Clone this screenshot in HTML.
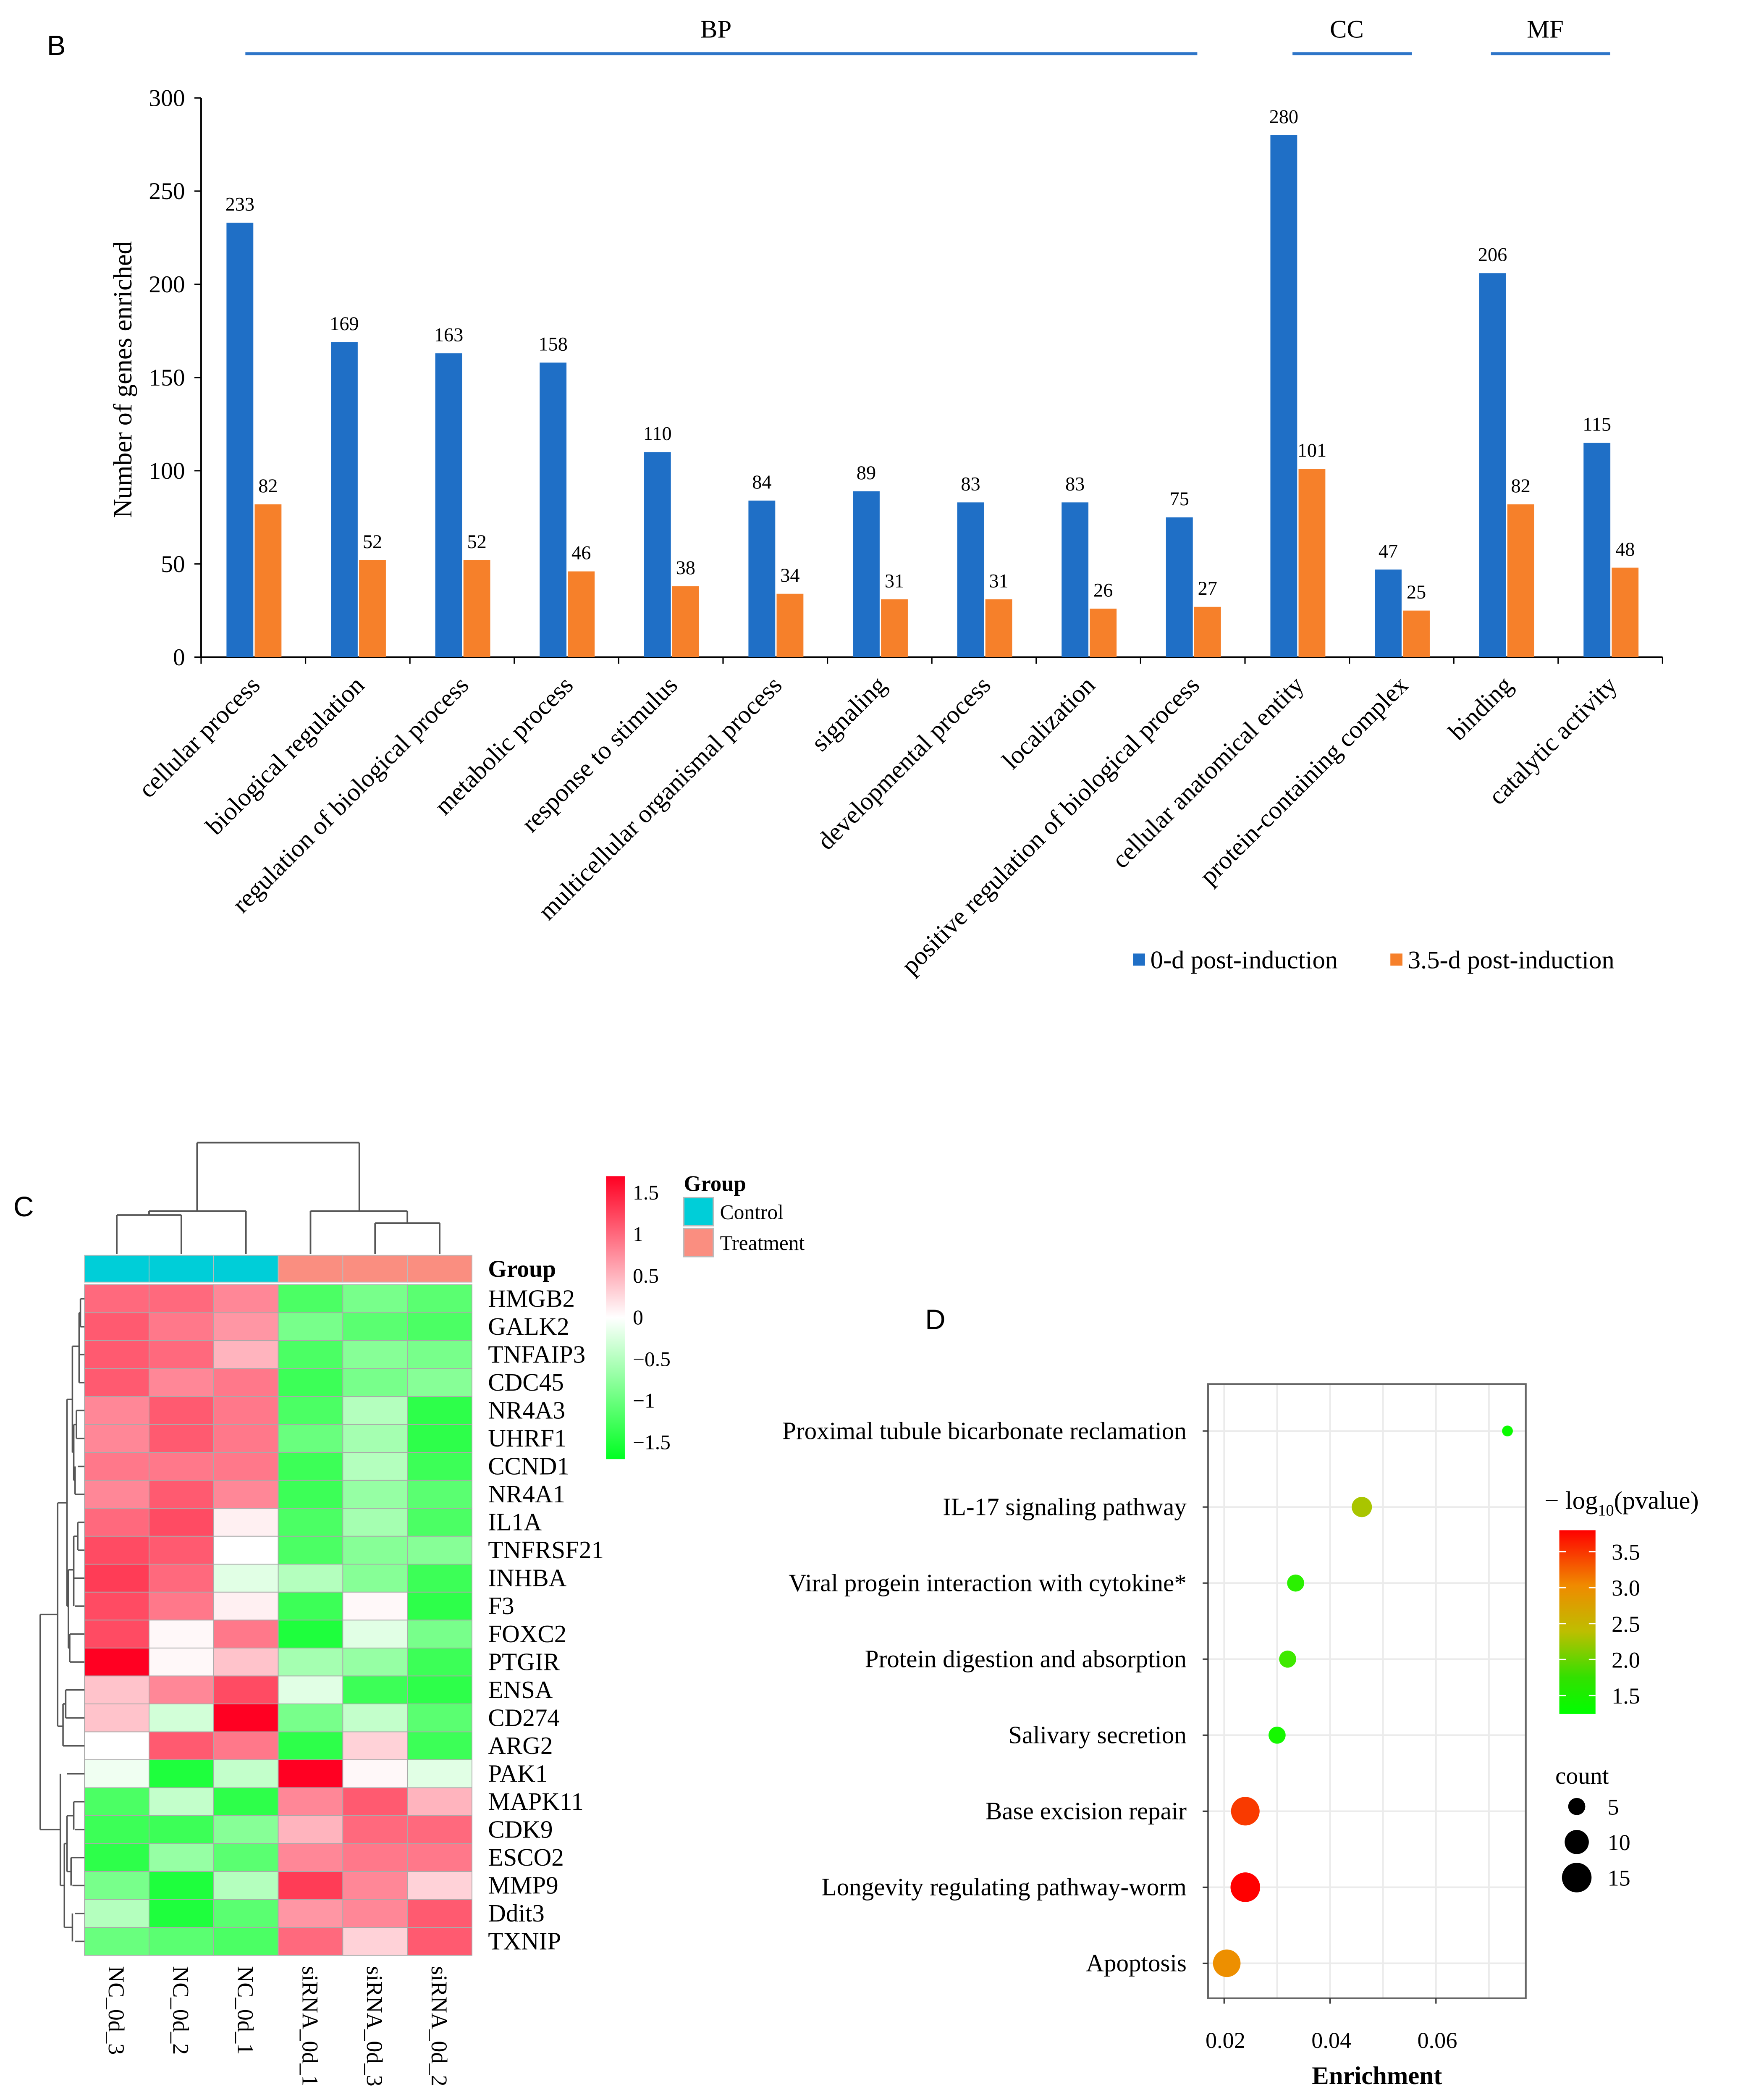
<!DOCTYPE html>
<html><head><meta charset="utf-8"><style>
html,body{margin:0;padding:0;background:#fff;overflow:hidden;}
svg{display:block;}
text{font-family:"Liberation Serif",serif;fill:#000;}
text.sans{font-family:"Liberation Sans",sans-serif;}
</style></head><body>
<svg id="fig" width="4151" height="5027" viewBox="0 0 1300 1574.3" preserveAspectRatio="none" xmlns="http://www.w3.org/2000/svg">
<rect width="1300" height="1575" fill="#fff"/>
<text class="sans" x="35" y="41" font-size="21">B</text>
<text class="sans" x="10" y="907" font-size="21">C</text>
<text class="sans" x="690" y="991" font-size="21">D</text>
<g id="bar"></g>
<g id="heat"></g>
<g id="dot"></g>
</svg>
<script>
const NS="http://www.w3.org/2000/svg";
function mk(p,t,a,txt){const e=document.createElementNS(NS,t);for(const k in a)e.setAttribute(k,a[k]);if(txt!==undefined)e.textContent=txt;p.appendChild(e);return e;}

// ---------- Bar chart data ----------
const barCategories=["cellular process","biological regulation","regulation of biological process","metabolic process","response to stimulus","multicellular organismal process","signaling","developmental process","localization","positive regulation of biological process","cellular anatomical entity","protein-containing complex","binding","catalytic activity"];
const series0d=[233,169,163,158,110,84,89,83,83,75,280,47,206,115];
const series35d=[82,52,52,46,38,34,31,31,26,27,101,25,82,48];
const barYTicks=[0,50,100,150,200,250,300];

// ---------- Heatmap data ----------
const heatCols=["NC_0d_3","NC_0d_2","NC_0d_1","siRNA_0d_1","siRNA_0d_3","siRNA_0d_2"];
const heatGroups=["Control","Control","Control","Treatment","Treatment","Treatment"];
const heatRows=["HMGB2","GALK2","TNFAIP3","CDC45","NR4A3","UHRF1","CCND1","NR4A1","IL1A","TNFRSF21","INHBA","F3","FOXC2","PTGIR","ENSA","CD274","ARG2","PAK1","MAPK11","CDK9","ESCO2","MMP9","Ddit3","TXNIP"];
const heatValues=[
[1.0,1.0,0.8,-1.2,-0.9,-1.1],
[1.1,0.9,0.7,-0.9,-1.1,-1.2],
[1.1,1.0,0.5,-1.2,-0.8,-0.9],
[1.1,0.8,0.9,-1.3,-0.9,-0.8],
[0.8,1.1,0.9,-1.2,-0.5,-1.4],
[0.8,1.1,0.9,-1.0,-0.6,-1.4],
[0.9,0.9,0.9,-1.3,-0.5,-1.3],
[0.8,1.1,0.8,-1.3,-0.7,-1.1],
[1.0,1.2,0.1,-1.2,-0.6,-1.2],
[1.2,1.1,0.0,-1.2,-0.8,-0.8],
[1.3,1.0,-0.2,-0.5,-0.8,-1.3],
[1.2,0.9,0.1,-1.3,0.05,-1.4],
[1.2,0.05,0.9,-1.5,-0.2,-0.9],
[1.7,0.05,0.4,-0.6,-0.7,-1.3],
[0.4,0.8,1.2,-0.2,-1.3,-1.4],
[0.4,-0.3,1.7,-0.9,-0.4,-1.1],
[0.0,1.1,0.9,-1.4,0.3,-1.3],
[-0.1,-1.5,-0.4,1.7,0.05,-0.2],
[-1.2,-0.4,-1.4,0.8,1.1,0.5],
[-1.3,-1.3,-0.8,0.5,1.0,1.0],
[-1.4,-0.7,-1.1,0.8,0.9,0.9],
[-0.9,-1.5,-0.5,1.3,0.8,0.3],
[-0.5,-1.5,-1.1,0.7,0.8,1.1],
[-1.0,-1.1,-1.2,1.0,0.3,1.1]];
const heatTicks=[1.5,1,0.5,0,-0.5,-1,-1.5];
const heatTickLabels=["1.5","1","0.5","0","\u22120.5","\u22121","\u22121.5"];

// ---------- Dot plot data ----------
const pathways=["Proximal tubule bicarbonate reclamation","IL-17 signaling pathway","Viral progein interaction with cytokine*","Protein digestion and absorption","Salivary secretion","Base excision repair","Longevity regulating pathway-worm","Apoptosis"];
const enrichment=[0.0735,0.046,0.0335,0.032,0.030,0.024,0.024,0.0205];
const counts=[2,7,5,5,5,14,15,13];
const logp=[1.35,2.1,1.5,1.6,1.4,3.5,3.85,2.95];
const enrichTicks=[0.02,0.04,0.06];
const pTicks=[3.5,3.0,2.5,2.0,1.5];
const countLegend=[5,10,15];

// ===== Bar chart =====
(function(){
const g=document.getElementById('bar');
const x0=150,x1=1240,y0=490,yTop=73;
const y=v=>y0-(v/300)*(y0-yTop);
const gw=(x1-x0)/barCategories.length;
const cx=i=>x0+gw*(i+0.5);
let e;
e=mk(g,'line',{x1:x0,y1:yTop,x2:x0,y2:y0,stroke:'#000','stroke-width':1.2});

e=mk(g,'line',{x1:x0,y1:y0,x2:x1,y2:y0,stroke:'#000','stroke-width':1.2});

barYTicks.forEach(t=>{
 mk(g,'line',{x1:x0-5,y1:y(t),x2:x0,y2:y(t),stroke:'#000'});
 e=mk(g,'text',{x:x0-12,y:y(t)+6,'font-size':18,'text-anchor':'end'},t);
 
});
for(let i=0;i<=barCategories.length;i++)mk(g,'line',{x1:x0+gw*i,y1:y0,x2:x0+gw*i,y2:y0+5,stroke:'#000'});
e=mk(g,'text',{x:0,y:0,'font-size':19.5,'text-anchor':'middle',transform:'translate(98,283) rotate(-90)'},'Number of genes enriched');

barCategories.forEach((c,i)=>{
 const c0=cx(i);
 e=mk(g,'rect',{x:c0-20,y:y(series0d[i]),width:20,height:y0-y(series0d[i]),fill:'#1F6FC6'});
 
 e=mk(g,'rect',{x:c0+1,y:y(series35d[i]),width:20,height:y0-y(series35d[i]),fill:'#F6802A'});
 
 e=mk(g,'text',{x:c0-10,y:y(series0d[i])-9,'font-size':14.5,'text-anchor':'middle'},series0d[i]);
 
 e=mk(g,'text',{x:c0+11,y:y(series35d[i])-9,'font-size':14.5,'text-anchor':'middle'},series35d[i]);
 
 e=mk(g,'text',{x:0,y:0,'font-size':19,'text-anchor':'end',transform:`translate(${c0+6},${y0+22}) rotate(-45)`},c);
 
});
const brackets=[["BP",183,893],["CC",964,1053],["MF",1112,1201]];
brackets.forEach(b=>{
 e=mk(g,'line',{x1:b[1],y1:40,x2:b[2],y2:40,stroke:'#2E75C8','stroke-width':2.2});
 
 e=mk(g,'text',{x:(b[1]+b[2])/2-4,y:28,'font-size':19,'text-anchor':'middle'},b[0]);
 
});
e=mk(g,'rect',{x:845,y:711,width:9,height:9,fill:'#1F6FC6'});

e=mk(g,'text',{x:858,y:722,'font-size':19},'0-d post-induction');

e=mk(g,'rect',{x:1037,y:711,width:9,height:9,fill:'#F6802A'});

e=mk(g,'text',{x:1050,y:722,'font-size':19},'3.5-d post-induction');

})();

// ===== Heatmap =====
(function(){
const g=document.getElementById('heat');
const hx0=63,hx1=352,hy0=958,hy1=1458;
const cw=(hx1-hx0)/heatCols.length, rh=(hy1-hy0)/heatRows.length;
function col(v){
 const m=1.7;let t=Math.max(-1,Math.min(1,v/m));
 if(t>=0){return `rgb(255,${Math.round(255-255*t)},${Math.round(255-221*t)})`;}
 t=-t;return `rgb(${Math.round(255-255*t)},255,${Math.round(255-220*t)})`;
}
let e;
heatCols.forEach((c,j)=>{
 e=mk(g,'rect',{x:hx0+cw*j,y:936,width:cw,height:20,fill:heatGroups[j]==='Control'?'#00CED8':'#FA8E80',stroke:'#bbb','stroke-width':0.6});
 
 e=mk(g,'text',{x:0,y:0,'font-size':17,transform:`translate(${hx0+cw*(j+0.5)-6},${hy1+8}) rotate(90)`},c);
 
});
heatRows.forEach((r,i)=>{
 heatValues[i].forEach((v,j)=>{
  e=mk(g,'rect',{x:hx0+cw*j,y:hy0+rh*i,width:cw,height:rh,fill:col(v),stroke:'#aaa','stroke-width':0.6});
  
 });
 e=mk(g,'text',{x:364,y:hy0+rh*(i+0.5)+6,'font-size':18.5},r);
 
});
e=mk(g,'text',{x:364,y:952,'font-size':18,'font-weight':'bold'},'Group');

const cc=j=>hx0+cw*(j+0.5);
const dl=[[cc(0),935,cc(0),906],[cc(1),935,cc(1),906],[cc(0),906,cc(1),906],[cc(2),935,cc(2),903],[(cc(0)+cc(1))/2,906,(cc(0)+cc(1))/2,903],[(cc(0)+cc(1))/2,903,cc(2),903],
[cc(4),935,cc(4),912],[cc(5),935,cc(5),912],[cc(4),912,cc(5),912],[cc(3),935,cc(3),903],[(cc(4)+cc(5))/2,912,(cc(4)+cc(5))/2,903],[cc(3),903,(cc(4)+cc(5))/2,903],
[147,903,147,852],[268,903,268,852],[147,852,268,852]];
const dg=mk(g,'g',{stroke:'#555','stroke-width':1.2,fill:'none'});

dl.forEach(l=>mk(dg,'line',{x1:l[0],y1:l[1],x2:l[2],y2:l[3]}));
const rc=i=>hy0+rh*(i+0.5);
const rg=mk(g,'g',{stroke:'#555','stroke-width':1.1,fill:'none'});

const leafX=[60,60,59,59,57,57,58,56,58,58,55,56,52,52,49,49,47,50,55,56,53,54,56,56];
heatRows.forEach((r,i)=>mk(rg,'line',{x1:leafX[i],y1:rc(i),x2:63,y2:rc(i)}));
const rl=[[60,rc(0),60,rc(1)],[59,rc(0.5),59,rc(3)],[57,rc(4),57,rc(5)],[56,rc(6),56,rc(7)],[55,rc(4.5),55,rc(6.5)],[54,rc(1.7),54,rc(5.5)],
[58,rc(8),58,rc(9)],[55,rc(8.5),55,rc(11)],[52,rc(12),52,rc(13)],[51,rc(9.7),51,rc(12.5)],[50,rc(3.6),50,rc(11)],[49,rc(14),49,rc(15)],[47,rc(14.5),47,rc(16)],[43,rc(7.3),43,rc(15.3)],
[55,rc(18),55,rc(19)],[53,rc(20),53,rc(21)],[54,rc(22),54,rc(23)],[50,rc(18.5),50,rc(20.5)],[48,rc(19.5),48,rc(22.5)],[45,rc(17),45,rc(21)],[30,rc(11.3),30,rc(19)]];
rl.forEach(l=>mk(rg,'line',{x1:l[0],y1:l[1],x2:l[2],y2:l[3]}));
[[43,50,rc(7.3)],[30,43,rc(11.3)],[30,45,rc(19)],[45,48,rc(21)],[48,50,rc(19.5)],[48,54,rc(22.5)],[50,55,rc(18.5)],[50,53,rc(20.5)],[43,47,rc(15.3)],[47,49,rc(14.5)],[50,54,rc(3.6)],[50,51,rc(11)],[51,55,rc(9.7)],[51,52,rc(12.5)],[54,59,rc(1.7)],[54,55,rc(5.5)],[55,57,rc(4.5)],[55,56,rc(6.5)],[59,60,rc(0.5)],[55,58,rc(8.5)]].forEach(l=>mk(rg,'line',{x1:l[0],y1:l[2],x2:l[1],y2:l[2]}));
const defs=mk(g,'defs',{});
const lg=mk(defs,'linearGradient',{id:'hg',x1:0,y1:0,x2:0,y2:1});
mk(lg,'stop',{offset:'0','stop-color':'#FF0022'});mk(lg,'stop',{offset:'0.5','stop-color':'#FFFFFF'});mk(lg,'stop',{offset:'1','stop-color':'#00FF22'});
e=mk(g,'rect',{x:452,y:877,width:14,height:211,fill:'url(#hg)'});

const cb=v=>982.5-v*(211/2)/1.7;
heatTicks.forEach((t,k)=>{
 e=mk(g,'text',{x:472,y:cb(t)+5,'font-size':15.5},heatTickLabels[k]);
 
});
e=mk(g,'text',{x:510,y:888,'font-size':16.5,'font-weight':'bold'},'Group');

e=mk(g,'rect',{x:510,y:893,width:22,height:21,fill:'#00CED8',stroke:'#bbb'});

e=mk(g,'text',{x:537,y:909,'font-size':15.5},'Control');

e=mk(g,'rect',{x:510,y:916,width:22,height:21,fill:'#FA8E80',stroke:'#bbb'});

e=mk(g,'text',{x:537,y:932,'font-size':15.5},'Treatment');

})();

// ===== Dot plot =====
(function(){
const g=document.getElementById('dot');
const px0=901,px1=1138,py0=1032,py1=1490;
const x=v=>913+(v-0.02)*(79/0.02);
const rowY=i=>1067+i*56.7;
const rad=c=>2.85*Math.sqrt(c);
function pcol(v){
 const stops=[[1.3,[0,255,0]],[2.2,[190,190,0]],[3.0,[240,140,0]],[3.85,[255,0,0]]];
 if(v<=stops[0][0])return 'rgb(0,255,0)';
 for(let k=1;k<stops.length;k++){if(v<=stops[k][0]){const a=stops[k-1],b=stops[k],t=(v-a[0])/(b[0]-a[0]);return 'rgb('+a[1].map((c,n)=>Math.round(c+(b[1][n]-c)*t)).join(',')+')';}}
 return 'rgb(255,0,0)';
}
let e;
mk(g,'rect',{x:px0,y:py0,width:px1-px0,height:py1-py0,fill:'#fff'});
[0.02,0.03,0.04,0.05,0.06,0.07].forEach(v=>mk(g,'line',{x1:x(v),y1:py0,x2:x(v),y2:py1,stroke:'#ebebeb','stroke-width':1.2}));
pathways.forEach((p,i)=>mk(g,'line',{x1:px0,y1:rowY(i),x2:px1,y2:rowY(i),stroke:'#ebebeb','stroke-width':1.2}));
e=mk(g,'rect',{x:px0,y:py0,width:px1-px0,height:py1-py0,fill:'none',stroke:'#666','stroke-width':1.3});

pathways.forEach((p,i)=>{
 mk(g,'line',{x1:px0-4,y1:rowY(i),x2:px0,y2:rowY(i),stroke:'#333'});
 e=mk(g,'text',{x:885,y:rowY(i)+6,'font-size':18.5,'text-anchor':'end'},p);
 
 e=mk(g,'circle',{cx:x(enrichment[i]),cy:rowY(i),r:rad(counts[i]),fill:pcol(logp[i])});
 
});
enrichTicks.forEach(t=>{
 mk(g,'line',{x1:x(t),y1:py1,x2:x(t),y2:py1+4,stroke:'#333'});
 e=mk(g,'text',{x:x(t)+1,y:py1+37,'font-size':17,'text-anchor':'middle'},t.toFixed(2));
 
});
e=mk(g,'text',{x:1027,y:1554,'font-size':19,'font-weight':'bold','text-anchor':'middle'},'Enrichment');

e=mk(g,'text',{x:1152,y:1125,'font-size':19});

mk(e,'tspan',{},'\u2212 log');
mk(e,'tspan',{'font-size':12,dy:5},'10');
mk(e,'tspan',{dy:-5},'(pvalue)');
const defs=mk(g,'defs',{});
const lg=mk(defs,'linearGradient',{id:'pg',x1:0,y1:0,x2:0,y2:1});
mk(lg,'stop',{offset:'0','stop-color':'#FF0000'});mk(lg,'stop',{offset:'0.3','stop-color':'#F08A00'});mk(lg,'stop',{offset:'0.55','stop-color':'#BEBE00'});mk(lg,'stop',{offset:'0.8','stop-color':'#33E000'});mk(lg,'stop',{offset:'1','stop-color':'#00FF00'});
e=mk(g,'rect',{x:1163,y:1141,width:27,height:137,fill:'url(#pg)'});

const pc=v=>1157+(3.5-v)*(26.8/0.5);
pTicks.forEach(t=>{
 mk(g,'line',{x1:1163,y1:pc(t),x2:1168,y2:pc(t),stroke:'#fff'});
 mk(g,'line',{x1:1185,y1:pc(t),x2:1190,y2:pc(t),stroke:'#fff'});
 e=mk(g,'text',{x:1202,y:pc(t)+6,'font-size':17},t.toFixed(1));
 
});
e=mk(g,'text',{x:1160,y:1330,'font-size':18},'count');

countLegend.forEach((c,k)=>{
 const yy=1347+k*26.5;
 e=mk(g,'circle',{cx:1176,cy:yy,r:rad(c),fill:'#000'});
 
 e=mk(g,'text',{x:1199,y:yy+6,'font-size':17},c);
 
});
})();
</script>
</body></html>
